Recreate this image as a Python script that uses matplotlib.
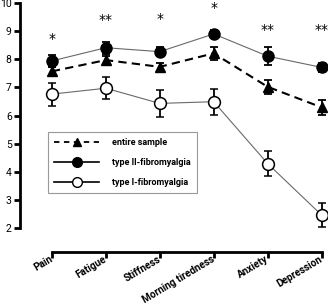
import matplotlib
matplotlib.use("Agg")
import matplotlib.pyplot as plt
import matplotlib.transforms as mtransforms
from matplotlib.lines import Line2D
import numpy as np

plt.rcParams["font.family"] = ["Roboto", "DejaVu Sans"]

# data
categories = ["Pain", "Fatigue", "Stiffness", "Morning tiredness", "Anxiety", "Depression"]
entire = [7.57, 7.97, 7.73, 8.21, 7.02, 6.29]
entire_err = [0.15, 0.15, 0.15, 0.22, 0.25, 0.27]
type2 = [7.94, 8.41, 8.27, 8.90, 8.11, 7.71]
type2_err = [0.2, 0.22, 0.15, 0.15, 0.32, 0.15]
type1 = [6.76, 6.97, 6.43, 6.49, 4.29, 2.46]
type1_err = [0.41, 0.40, 0.47, 0.47, 0.44, 0.44]
stars = ["*", "**", "*", "*", "**", "**"]
star_y = [8.72, 9.38, 9.42, 9.82, 9.05, 9.05]

fig = plt.figure(figsize=(3.31, 3.04), dpi=100)
ax = fig.add_axes([20 / 331, 1 - 228 / 304, 307 / 331, 225 / 304])
x = np.arange(len(categories))

# spines first: set_position resets the ticks
for side in ["top", "right"]:
    ax.spines[side].set_visible(False)
ax.spines["left"].set_linewidth(2)
ax.spines["bottom"].set_linewidth(2)
ax.spines["bottom"].set_position(("outward", 17))

ax.errorbar(x, type1, yerr=type1_err, color="dimgray", lw=0.8, ecolor="black",
            elinewidth=1.3, capsize=3, capthick=1.3, marker="o", ms=8.5,
            mfc="white", mec="black", mew=1.1, zorder=2)
ax.errorbar(x, entire, yerr=entire_err, color="black", lw=1.5, ls=(0, (4, 2.5)),
            ecolor="black", elinewidth=1.3, capsize=3, capthick=1.3, marker="^",
            ms=7, mfc="black", mec="black", zorder=3)
ax.errorbar(x, type2, yerr=type2_err, color="dimgray", lw=0.8, ecolor="black",
            elinewidth=1.3, capsize=3, capthick=1.3, marker="o", ms=8,
            mfc="black", mec="black", zorder=4)

for xi, s, yy in zip(x, stars, star_y):
    ax.text(xi, yy, s, ha="center", va="center", fontsize=10, family="DejaVu Sans")

ax.set_xlim(-0.59, 5.1)
ax.set_ylim(2, 10)
ax.set_yticks(range(2, 11))
ax.set_xticks(x)
ax.set_xticklabels(categories, rotation=31, ha="right", va="center",
                   rotation_mode="anchor", fontsize=7.2, fontweight="bold")
shift = mtransforms.ScaledTranslation(5 / 100, 0, fig.dpi_scale_trans)
for lab in ax.get_xticklabels():
    lab.set_transform(lab.get_transform() + shift)
ax.tick_params(axis="y", labelsize=7.5, width=2, length=4, pad=2)
ax.tick_params(axis="x", width=2, length=4, pad=1)
ax.spines["bottom"].set_bounds(0, 5)
ax.spines["left"].set_bounds(2, 10)

handles = [
    Line2D([0], [0], color="black", lw=1.3, ls=(0, (3, 2.5)), marker="^", ms=6,
           mfc="black", mec="black"),
    Line2D([0], [0], color="black", lw=1.2, marker="o", ms=7, mfc="black", mec="black"),
    Line2D([0], [0], color="black", lw=1.2, marker="o", ms=7, mfc="white", mec="black"),
]
labels = ["entire sample", "type II-fibromyalgia", "type I-fibromyalgia"]
leg = ax.legend(handles, labels, loc="upper left", bbox_to_anchor=(0.091, 0.427),
                borderaxespad=0, fancybox=False, edgecolor="gray",
                prop={"size": 6.5, "weight": "bold"}, handlelength=5.0,
                labelspacing=1.2, borderpad=0.7, handletextpad=1.4)
leg.get_frame().set_linewidth(0.8)

fig.savefig("out.png", dpi=100)
